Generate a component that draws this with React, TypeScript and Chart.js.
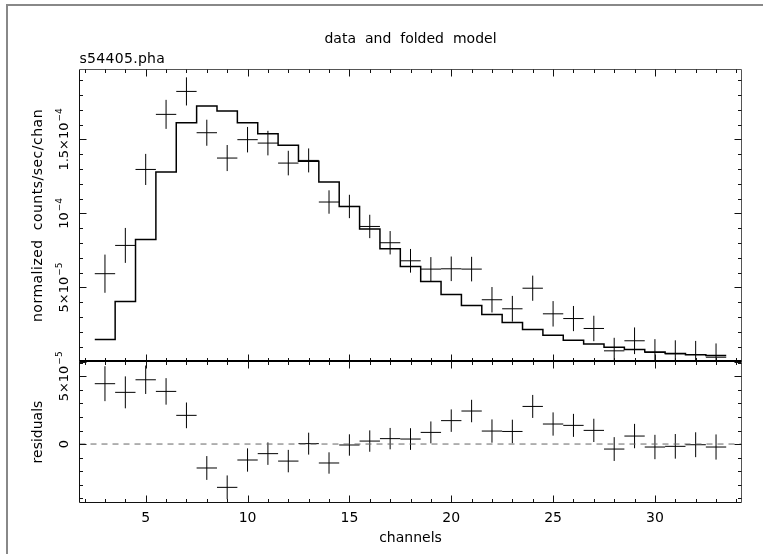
import React, { useEffect, useRef } from "react";
import { Chart, registerables } from "chart.js";

Chart.register(...registerables);

// ---- data ----
const channels = [3, 4, 5, 6, 7, 8, 9, 10, 11, 12, 13, 14, 15, 16, 17, 18, 19, 20, 21, 22, 23, 24, 25, 26, 27, 28, 29, 30, 31, 32, 33];
const dataRate = [5.93e-5, 7.84e-5, 1.297e-4, 1.669e-4, 1.824e-4, 1.545e-4, 1.374e-4, 1.498e-4, 1.475e-4, 1.34e-4, 1.358e-4, 1.077e-4, 1.047e-4, 9.12e-5, 8.02e-5, 6.8e-5, 6.24e-5, 6.26e-5, 6.24e-5, 4.17e-5, 3.56e-5, 4.95e-5, 3.22e-5, 2.9e-5, 2.23e-5, 7.2e-6, 1.4e-5, 6.1e-6, 5.2e-6, 4.7e-6, 2.9e-6];
const dataErr = [1.29e-5, 1.18e-5, 1.05e-5, 9.8e-6, 9.5e-6, 8.8e-6, 8.8e-6, 8.6e-6, 8.3e-6, 8.3e-6, 8.1e-6, 7.9e-6, 7.9e-6, 7.9e-6, 7.9e-6, 8.0e-6, 8.1e-6, 8.3e-6, 8.3e-6, 8.6e-6, 8.7e-6, 8.5e-6, 8.6e-6, 8.5e-6, 8.6e-6, 8.8e-6, 9.0e-6, 9.0e-6, 9.1e-6, 9.2e-6, 9.3e-6];
const modelRate = [1.49e-5, 4.05e-5, 8.24e-5, 1.279e-4, 1.613e-4, 1.725e-4, 1.691e-4, 1.613e-4, 1.538e-4, 1.46e-4, 1.353e-4, 1.212e-4, 1.047e-4, 8.94e-5, 7.61e-5, 6.42e-5, 5.41e-5, 4.53e-5, 3.78e-5, 3.18e-5, 2.64e-5, 2.16e-5, 1.78e-5, 1.44e-5, 1.19e-5, 9.7e-6, 8.1e-6, 6.5e-6, 5.4e-6, 4.5e-6, 4.1e-6];
const residuals = [4.46e-5, 3.82e-5, 4.75e-5, 3.89e-5, 2.12e-5, -1.77e-5, -3.2e-5, -1.18e-5, -7.1e-6, -1.26e-5, 3e-7, -1.4e-5, -7e-7, 2.2e-6, 4.0e-6, 3.7e-6, 8.6e-6, 1.73e-5, 2.44e-5, 9.6e-6, 9.3e-6, 2.78e-5, 1.48e-5, 1.38e-5, 1.01e-5, -3.7e-6, 5.9e-6, -2.2e-6, -1.7e-6, -5e-7, -2.2e-6];

const xTickLabels = [5, 10, 15, 20, 25, 30];
const topYTickValues = [5e-5, 1e-4, 1.5e-4];
const topYTickMain = ["5×10", "10", "1.5×10"];
const topYTickExp = ["−5", "−4", "−4"];
const botYTickValues = [0, 5e-5];
const botYTickMain = ["0", "5×10"];
const botYTickExp = ["", "−5"];

const X_MIN = 1.75;
const X_MAX = 34.25;
const TOP_Y_MIN = 0;
const TOP_Y_MAX = 1.972e-4;
const BOT_Y_MIN = -4.32e-5;
const BOT_Y_MAX = 6.1e-5;

const FONT = "'DejaVu Sans', 'Liberation Sans', sans-serif";

// ---- builders ----
function crossPoints(vals: number[], errs: number[]) {
  const pts: { x: number; y: number | null }[] = [];
  channels.forEach((c, i) => {
    pts.push({ x: c - 0.5, y: vals[i] });
    pts.push({ x: c + 0.5, y: vals[i] });
    pts.push({ x: c, y: null });
    pts.push({ x: c, y: vals[i] - errs[i] });
    pts.push({ x: c, y: vals[i] + errs[i] });
    pts.push({ x: c, y: null });
  });
  return pts;
}

function stepPoints(vals: number[]) {
  // left bin edges, plus the right edge of the last bin
  const pts = channels.map((c, i) => ({ x: c - 0.5, y: vals[i] }));
  pts.push({ x: channels[channels.length - 1] + 0.5, y: vals[vals.length - 1] });
  return pts;
}

// ---- plugins ----
const framePlugin = {
  id: "pgframe",
  afterDatasetsDraw(chart: any, _args: any, opts: any) {
    const { ctx, chartArea: a, scales } = chart;
    const xs = scales.x;
    const ys = scales.y;
    ctx.save();
    ctx.strokeStyle = "#111";
    ctx.lineWidth = 1;
    ctx.beginPath();
    // left + bottom
    ctx.moveTo(a.left, a.top);
    ctx.lineTo(a.left, a.bottom);
    ctx.lineTo(a.right, a.bottom);
    ctx.stroke();
    // top + right (lighter, as in the reference)
    ctx.strokeStyle = "#555";
    ctx.beginPath();
    ctx.moveTo(a.left, a.top);
    ctx.lineTo(a.right, a.top);
    ctx.lineTo(a.right, a.bottom);
    ctx.stroke();
    if (opts && opts.thickTop) {
      ctx.strokeStyle = "#000";
      ctx.lineWidth = 2;
      ctx.beginPath();
      ctx.moveTo(a.left, a.top - 0.5);
      ctx.lineTo(a.right, a.top - 0.5);
      ctx.stroke();
      ctx.lineWidth = 1;
    }
    ctx.strokeStyle = "#111";
    ctx.beginPath();
    for (let v = Math.ceil(xs.min); v <= Math.floor(xs.max); v++) {
      const px = Math.round(xs.getPixelForValue(v)) + 0.5;
      const len = v % 5 === 0 ? 7 : 3.5;
      ctx.moveTo(px, a.top);
      ctx.lineTo(px, a.top + len);
      ctx.moveTo(px, a.bottom);
      ctx.lineTo(px, a.bottom - len);
    }
    const step = 1e-5;
    const kMin = Math.ceil(ys.min / step - 1e-6);
    const kMax = Math.floor(ys.max / step + 1e-6);
    for (let k = kMin; k <= kMax; k++) {
      const py = Math.round(ys.getPixelForValue(k * step)) + 0.5;
      const len = k % 5 === 0 ? 7 : 3.5;
      ctx.moveTo(a.left, py);
      ctx.lineTo(a.left + len, py);
      ctx.moveTo(a.right, py);
      ctx.lineTo(a.right - len, py);
    }
    ctx.stroke();
    ctx.restore();
  },
};

function rotLabel(ctx: CanvasRenderingContext2D, x: number, yc: number, main: string, sup: string) {
  ctx.save();
  ctx.font = `13px ${FONT}`;
  const wm = ctx.measureText(main).width;
  ctx.font = `9px ${FONT}`;
  const ws = sup ? ctx.measureText(sup).width + 1 : 0;
  const total = wm + ws;
  ctx.translate(x, yc);
  ctx.rotate(-Math.PI / 2);
  ctx.textAlign = "left";
  ctx.textBaseline = "alphabetic";
  ctx.fillStyle = "#000";
  ctx.font = `13px ${FONT}`;
  ctx.fillText(main, -total / 2, 0);
  if (sup) {
    ctx.font = `9px ${FONT}`;
    ctx.fillText(sup, -total / 2 + wm + 1, -6);
  }
  ctx.restore();
}

function rotTitle(ctx: CanvasRenderingContext2D, x: number, yc: number, text: string, spacing: string, wordSp: string) {
  ctx.save();
  ctx.translate(x, yc);
  ctx.rotate(-Math.PI / 2);
  ctx.textAlign = "center";
  ctx.textBaseline = "alphabetic";
  ctx.fillStyle = "#000";
  ctx.font = `14px ${FONT}`;
  (ctx as any).letterSpacing = spacing;
  (ctx as any).wordSpacing = wordSp;
  ctx.fillText(text, 0, 0);
  ctx.restore();
}

const topTextPlugin = {
  id: "toptext",
  afterDraw(chart: any) {
    const { ctx, chartArea: a, scales } = chart;
    ctx.save();
    // outer border
    ctx.strokeStyle = "#888";
    ctx.lineWidth = 2;
    ctx.beginPath();
    ctx.moveTo(7, chart.height);
    ctx.lineTo(7, 5);
    ctx.lineTo(chart.width, 5);
    ctx.stroke();
    ctx.fillStyle = "#000";
    ctx.font = `14px ${FONT}`;
    ctx.textAlign = "center";
    ctx.textBaseline = "alphabetic";
    (ctx as any).wordSpacing = "4.5px";
    ctx.fillText("data and folded model", (a.left + a.right) / 2, 43);
    (ctx as any).wordSpacing = "0px";
    ctx.textAlign = "left";
    (ctx as any).letterSpacing = "0.3px";
    ctx.fillText("s54405.pha", a.left, 63);
    ctx.restore();
    rotTitle(ctx, 42, (a.top + a.bottom) / 2, "normalized counts/sec/chan", "0.5px", "4px");
    topYTickValues.forEach((v, i) => {
      rotLabel(ctx, 68, scales.y.getPixelForValue(v), topYTickMain[i], topYTickExp[i]);
    });
  },
};

const botTextPlugin = {
  id: "bottext",
  afterDraw(chart: any) {
    const { ctx, chartArea: a, scales } = chart;
    ctx.save();
    ctx.fillStyle = "#000";
    ctx.font = `14px ${FONT}`;
    ctx.textAlign = "center";
    ctx.textBaseline = "alphabetic";
    xTickLabels.forEach((v) => {
      ctx.fillText(String(v), scales.x.getPixelForValue(v), 521.5);
    });
    ctx.fillText("channels", (a.left + a.right) / 2, 541.5);
    ctx.restore();
    rotTitle(ctx, 42, (a.top + a.bottom) / 2, "residuals", "0px", "0px");
    botYTickValues.forEach((v, i) => {
      rotLabel(ctx, 68, scales.y.getPixelForValue(v), botYTickMain[i], botYTickExp[i]);
    });
  },
};

function baseOptions(padding: any, yMin: number, yMax: number, thickTop: boolean) {
  return {
    responsive: false,
    animation: false as const,
    devicePixelRatio: 1,
    events: [] as any[],
    layout: { padding },
    scales: {
      x: { type: "linear" as const, min: X_MIN, max: X_MAX, display: false },
      y: { type: "linear" as const, min: yMin, max: yMax, display: false },
    },
    plugins: {
      legend: { display: false },
      tooltip: { enabled: false },
      title: { display: false },
      pgframe: { thickTop },
    },
  };
}

export default function App() {
  const topRef = useRef<HTMLCanvasElement>(null);
  const botRef = useRef<HTMLCanvasElement>(null);

  useEffect(() => {
    const top = new Chart(topRef.current as HTMLCanvasElement, {
      type: "line",
      data: {
        datasets: [
          {
            data: stepPoints(modelRate) as any,
            stepped: "before",
            borderColor: "#000",
            borderWidth: 1.5,
            pointRadius: 0,
            fill: false,
          },
          {
            data: crossPoints(dataRate, dataErr) as any,
            borderColor: "#000",
            borderWidth: 1,
            pointRadius: 0,
            spanGaps: false,
            fill: false,
          },
        ],
      },
      options: baseOptions({ left: 79.5, right: 21.5, top: 69.5, bottom: 192.5 }, TOP_Y_MIN, TOP_Y_MAX, false) as any,
      plugins: [framePlugin, topTextPlugin],
    });

    const bot = new Chart(botRef.current as HTMLCanvasElement, {
      type: "line",
      data: {
        datasets: [
          {
            data: [
              { x: X_MIN, y: 0 },
              { x: X_MAX, y: 0 },
            ] as any,
            borderColor: "#666",
            borderWidth: 1,
            borderDash: [6, 5],
            pointRadius: 0,
            fill: false,
          },
          {
            data: crossPoints(residuals, dataErr) as any,
            borderColor: "#000",
            borderWidth: 1,
            pointRadius: 0,
            spanGaps: false,
            fill: false,
          },
        ],
      },
      options: baseOptions({ left: 79.5, right: 21.5, top: 361.5, bottom: 51.5 }, BOT_Y_MIN, BOT_Y_MAX, true) as any,
      plugins: [framePlugin, botTextPlugin],
    });

    return () => {
      top.destroy();
      bot.destroy();
    };
  }, []);

  return (
    <div style={{ position: "fixed", left: 0, top: 0, width: 763, height: 554, background: "#fff" }}>
      <canvas ref={topRef} width={763} height={554} style={{ position: "absolute", left: 0, top: 0 }} />
      <canvas ref={botRef} width={763} height={554} style={{ position: "absolute", left: 0, top: 0 }} />
    </div>
  );
}
